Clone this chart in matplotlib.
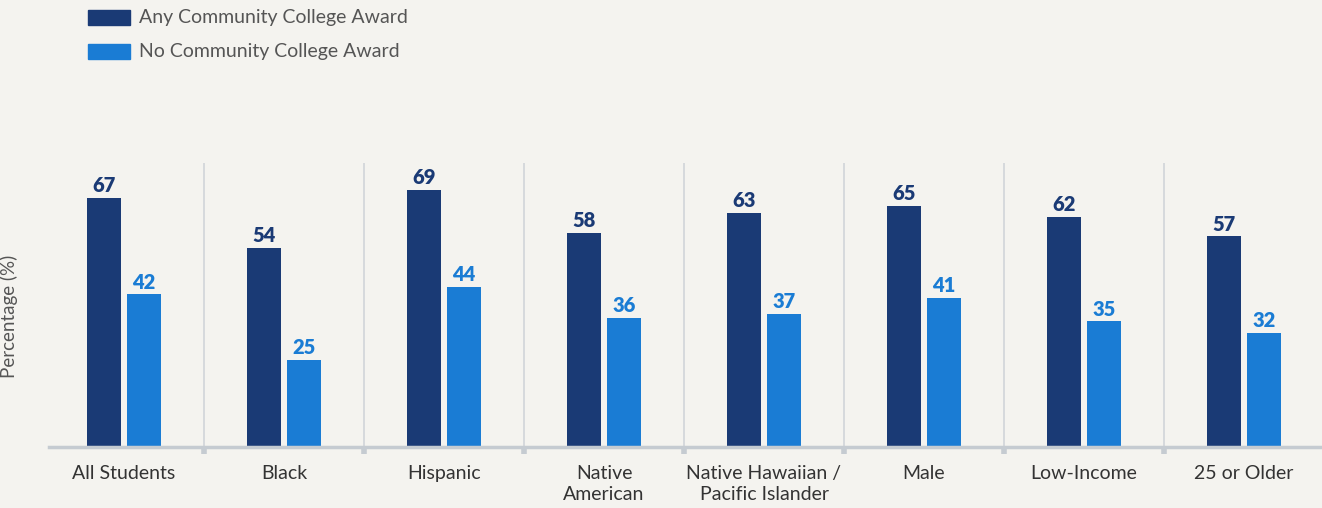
import matplotlib.pyplot as plt
from matplotlib.patches import Rectangle
import numpy as np

plt.rcParams['font.family'] = ['Lato', 'DejaVu Sans']

categories = ['All Students', 'Black', 'Hispanic', 'Native\nAmerican',
              'Native Hawaiian /\nPacific Islander', 'Male', 'Low-Income',
              '25 or Older']
any_award = [67, 54, 69, 58, 63, 65, 62, 57]
no_award = [42, 25, 44, 36, 37, 41, 35, 32]

dark = '#1a3a75'
light = '#1a7cd4'
bg = '#f4f3ef'
grid_col = '#d3d7db'
text_col = '#333333'

fig = plt.figure(figsize=(13.22, 5.08), dpi=100, facecolor=bg)
ax = fig.add_axes([49 / 1322, 61 / 508, 1273 / 1322, 284 / 508])
ax.set_facecolor(bg)

x = np.arange(len(categories))
w = 0.2125
off = 0.125
ax.bar(x - off, any_award, w, color=dark, zorder=3)
ax.bar(x + off, no_award, w, color=light, zorder=3)

for xi, a, n in zip(x, any_award, no_award):
    ax.annotate(str(a), (xi - off, a), xytext=(0, 2), textcoords='offset points',
                ha='center', va='bottom', fontsize=14.5, fontweight='heavy', color=dark)
    ax.annotate(str(n), (xi + off, n), xytext=(0, 2), textcoords='offset points',
                ha='center', va='bottom', fontsize=14.5, fontweight='heavy', color=light)

# separators between groups
for s in x[:-1] + 0.5:
    ax.axvline(s, color=grid_col, lw=1.3, zorder=1)

ax.set_xlim(-0.469, 7.4875)
ax.set_ylim(2.5, 76)
ax.set_xticks(x[:-1] + 0.5, minor=True)
ax.set_xticks(x)
ax.set_xticklabels(categories, fontsize=14, color=text_col, linespacing=1.3)
ax.tick_params(axis='x', which='major', length=0, pad=13)
ax.tick_params(axis='x', which='minor', length=5, width=4, color='#c5cbd1')
ax.set_yticks([])
for sp in ['top', 'right', 'left']:
    ax.spines[sp].set_visible(False)
ax.spines['bottom'].set_color('#c5cbd1')
ax.spines['bottom'].set_linewidth(2.5)
ax.spines['bottom'].set_zorder(4)

ax.set_ylabel('Percentage (%)', fontsize=13.5, color='#555555')
ax.yaxis.set_label_coords(-0.0244, 0.461)

# legend drawn in figure pixels
W, H = 1322, 508
legend = [('Any Community College Award', dark, 17),
          ('No Community College Award', light, 51)]
for label, col, yc in legend:
    fig.patches.append(Rectangle((88 / W, 1 - (yc + 8) / H), 42 / W, 15 / H,
                                 transform=fig.transFigure, color=col))
    fig.text(139 / W, 1 - yc / H, label, fontsize=14, color='#555555',
             va='center', ha='left')

fig.savefig('out.png', dpi=100, facecolor=bg)
